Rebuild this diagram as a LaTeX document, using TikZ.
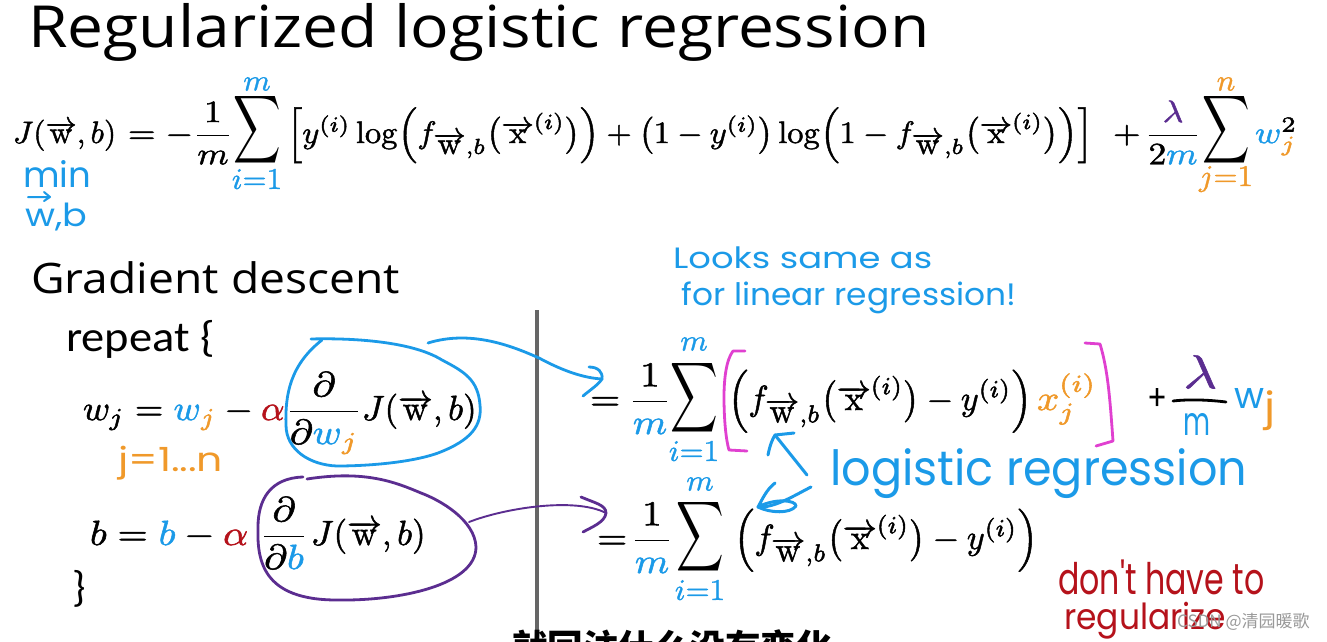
\documentclass[tikz,border=0pt]{standalone}
\usepackage[no-math]{fontspec}
\usepackage{graphicx}
\setmainfont{Carlito}
\newfontfamily\opens{Open Sans}
\newfontfamily\hand{Poppins}
\newfontfamily\cjk{Noto Sans CJK SC}
\definecolor{mblue}{HTML}{1B9AE8}
\definecolor{mora}{HTML}{F0992A}
\definecolor{mred}{HTML}{B5121B}
\definecolor{mpur}{HTML}{5B2D90}
\definecolor{mpink}{HTML}{E040D0}
\newcommand\vw{\overrightarrow{\mathrm{w}}}
\newcommand\vx{\overrightarrow{\mathrm{x}}}
\newcommand\B[1]{\textcolor{mblue}{#1}}
\newcommand\Or[1]{\textcolor{mora}{#1}}
\newcommand\heavy[2]{\special{pdf: code 2 Tr #1 w}#2\special{pdf: code 0 Tr 1 w}}
\newcommand\handfit[3]{\resizebox*{#1pt}{#2pt}{\hand #3}}
\setlength{\nulldelimiterspace}{0pt}
\tikzset{
  eq/.style={anchor=base west,inner sep=0pt,outer sep=0pt,xscale=3.55,yscale=3.1},
  eqb/.style={anchor=base west,inner sep=0pt,outer sep=0pt,xscale=3.9,yscale=3.5},
  eqc/.style={eqb,anchor=base},
  sumsign/.style={anchor=center,inner sep=0pt,outer sep=0pt,xscale=3.3,yscale=4.75},
  lim/.style={anchor=center,inner sep=0pt,xscale=3.1,yscale=3.0},
  title/.style={anchor=base west,inner sep=0pt,font=\fontsize{#1}{#1}\selectfont},
  hw/.style={anchor=north west,inner sep=0pt,text=mblue},
  stroke/.style={line cap=round,line join=round,line width=2.8pt},
  bar/.style={line width=1.4pt,black}
}
\begin{document}
\begin{tikzpicture}[x=1pt,y=-1pt]
\useasboundingbox (0,0) rectangle (1327,641);
\fill[white] (0,0) rectangle (1327,641);

\node[title=58,xscale=1.105] (ttl) at (28,47) {\opens Regularized logistic regression};
\node[title=42,xscale=1.1] (gd) at (31,293) {\opens Gradient descent};

% top equation
\node[eq,xscale=.88] (j1) at (13,143) {\heavy{.14}{$J(\vw,b)$}};
\node[eq] (j2) at (128,143) {\heavy{.14}{$=-$}};
\node[eq,anchor=base] (f1) at (213,143) {\heavy{.14}{$\displaystyle\frac{1}{m}$}};
\node[sumsign] (s1) at (257,130) {$\displaystyle\sum$};
\node[lim,text=mblue] (s1t) at (257,84) {\heavy{.12}{$m$}};
\node[lim,text=mblue] (s1b) at (257,179) {\heavy{.12}{$i{=}1$}};
\node[eq,xscale=.915] (main) at (287,143) {\heavy{.14}{$\Bigl[y^{(i)}\log\Bigl(f_{\vw,b}\bigl(\vx^{(i)}\bigr)\Bigr)+\bigl(1-y^{(i)}\bigr)\log\Bigl(1-f_{\vw,b}\bigl(\vx^{(i)}\bigr)\Bigr)\Bigr]$}};
\node[eq] (pl1) at (1113,143) {\heavy{.14}{$+$}};
\node[eq,anchor=base] (f2) at (1173,143) {\heavy{.14}{$\displaystyle\frac{\textcolor{mpur}{\lambda}}{2\B{m}}$}};
\node[sumsign] (s2) at (1226,130) {$\displaystyle\sum$};
\node[lim,text=mora] (s2t) at (1226,84) {\heavy{.12}{$n$}};
\node[lim,text=mora] (s2b) at (1226,179) {\heavy{.12}{$j{=}1$}};
\node[eq] (wj) at (1255,143) {\heavy{.14}{$\B{w}_{\Or{j}}^{2}$}};

% min
\node[hw] (min) at (23,160) {\handfit{68}{27}{min}};
\node[hw] (mwb) at (25,203) {\handfit{62}{28}{w,b}};
\coordinate (wa) at (28,197);
\coordinate (wb) at (50,197);
\draw[stroke,mblue,line width=2pt] (wa) -- (wb) (44,192) -- (wb) -- (44,201);

% repeat
\node[title=43,xscale=1.08] (rep) at (66,351) {repeat \{};
\node[title=43] (cl) at (72,601) {\}};

% w update
\node[eqb,xscale=.94] (w1) at (83,420) {\heavy{.14}{$w_j=\B{w}_{\Or{j}}-\textcolor{mred}{\alpha}$}};
\node[eqc] (fw) at (324,420) {\heavy{.14}{$\displaystyle\frac{\partial}{\partial \B{w}_{\Or{j}}}$}};
\node[eqb,xscale=.89] (jw) at (362,420) {\heavy{.14}{$J(\vw,b)$}};
\node[hw,text=mora] (jn) at (118,446) {\handfit{105}{34}{j=1...n}};

% b update
\node[eqb] (b1) at (90,545) {\heavy{.14}{$b=\B{b}-\textcolor{mred}{\alpha}$}};
\node[eqc] (fb) at (284,545) {\heavy{.14}{$\displaystyle\frac{\partial}{\partial \B{b}}$}};
\node[eqb,xscale=.89] (jb) at (311,545) {\heavy{.14}{$J(\vw,b)$}};

% separator
\draw[line width=3.2pt,black!60] (537,310) -- (537,641);

% right 1
\node[eqb] (e1) at (590,410) {\heavy{.14}{$=$}};
\node[eqc] (fr1) at (650,410) {\heavy{.14}{$\displaystyle\frac{1}{\B{m}}$}};
\node[sumsign,yscale=1.03] (s3) at (694,398) {$\displaystyle\sum$};
\node[lim,text=mblue] (s3t) at (694,344) {\heavy{.12}{$m$}};
\node[lim,text=mblue] (s3b) at (694,451) {\heavy{.12}{$i{=}1$}};
\node[eqb,xscale=.875] (r1) at (728,410) {\heavy{.14}{$\Bigl(f_{\vw,b}\bigl(\vx^{(i)}\bigr)-y^{(i)}\Bigr)$}};
\node[eqb] (xj) at (1037,410) {\heavy{.14}{$\Or{x}_{\Or{j}}^{\Or{(i)}}$}};
\node[hw,text=black] (plh) at (1147,388) {\handfit{20}{22}{+}};
\node[hw,text=mpur] (lam) at (1183,355) {\handfit{34}{33}{\heavy{.1}{$\lambda$}}};
\node[hw] (mh) at (1183,413) {\handfit{27}{22}{m}};
\node[hw] (wh) at (1234,388) {\handfit{30}{20}{w}};
\node[hw,text=mora] (jh) at (1264,390) {\handfit{11}{40}{j}};

% right 2
\node[eqb] (e2) at (597,549) {\heavy{.14}{$=$}};
\node[eqc] (fr2) at (652,549) {\heavy{.14}{$\displaystyle\frac{1}{\B{m}}$}};
\node[sumsign,yscale=1.03] (s4) at (700,537) {$\displaystyle\sum$};
\node[lim,text=mblue] (s4t) at (700,484) {\heavy{.12}{$m$}};
\node[lim,text=mblue] (s4b) at (700,590) {\heavy{.12}{$i{=}1$}};
\node[eqb,xscale=.875] (r2) at (734,549) {\heavy{.14}{$\Bigl(f_{\vw,b}\bigl(\vx^{(i)}\bigr)-y^{(i)}\Bigr)$}};

% handwriting
\node[hw] (look) at (673,247) {\handfit{259}{22}{Looks same as}};
\node[hw] (lin) at (681,282) {\handfit{335}{32}{for linear regression!}};
\node[hw] (logi) at (830,448) {\handfit{417}{50}{logistic regression}};
\node[hw,text=mred] (dont) at (1058,560) {\handfit{206}{35}{don't have to}};
\node[hw,text=mred] (regu) at (1064,602) {\handfit{162}{37}{regularize}};

% circles
\draw[stroke,mblue] (311,339) .. controls (345,338) and (410,340) .. (442,360)
  .. controls (465,372) and (478,380) .. (480,405)
  .. controls (482,425) and (472,440) .. (438,453)
  .. controls (410,463) and (365,466) .. (337,466)
  .. controls (310,465) and (286,450) .. (286,425)
  .. controls (285,395) and (290,365) .. (322,340);
\coordinate (ca) at (428,343);
\coordinate (cb) at (602,379);
\draw[stroke,mblue] (ca) .. controls (470,330) and (510,345) .. (539,358)
  .. controls (565,372) and (585,378) .. (cb);
\draw[stroke,mblue] (589,367) .. controls (598,367) and (603,372) .. (cb) .. controls (598,385) and (590,390) .. (583,396);

\draw[stroke,mpur] (303,477) .. controls (270,478) and (258,500) .. (258,527)
  .. controls (257,560) and (262,600) .. (337,600)
  .. controls (400,601) and (476,585) .. (476,547)
  .. controls (475,520) and (440,500) .. (421,493)
  .. controls (395,482) and (365,470) .. (307,479);
\coordinate (pa) at (469,522);
\coordinate (pb) at (606,513);
\draw[stroke,mpur,line width=1.9pt] (pa) .. controls (505,508) and (575,497) .. (pb);
\draw[stroke,mpur] (581,497) .. controls (595,503) and (606,505) .. (606,513) .. controls (605,522) and (592,527) .. (583,532);

% pink brackets
\draw[stroke,mpink] (745,351) -- (733,351) .. controls (726,360) and (724,380) .. (724,397) .. controls (724,420) and (726,440) .. (729,450) -- (747,451);
\draw[stroke,mpink] (1085,343) -- (1100,344) .. controls (1108,370) and (1110,400) .. (1113,441) -- (1096,446);

% frac bar of hand lambda
\draw[stroke,black] (1173,401) .. controls (1190,399) and (1210,400) .. (1226,402);

% logistic arrows
\coordinate (u1) at (807,475);
\coordinate (u2) at (775,435);
\draw[stroke,mblue,line width=3pt] (u1) -- (u2);
\draw[stroke,mblue,line width=3pt] (768,455) .. controls (770,445) and (772,440) .. (u2) -- (794,433);
\coordinate (d1) at (811,487);
\coordinate (d2) at (758,507);
\draw[stroke,mblue,line width=3pt] (d1) .. controls (795,495) and (775,508) .. (d2);
\draw[stroke,mblue,line width=3pt] (775,483) .. controls (766,490) and (762,500) .. (d2)
  .. controls (770,513) and (790,514) .. (796,506) .. controls (796,500) and (775,498) .. (d2);

% subtitle and watermark
\node[anchor=north west,inner sep=0pt,font=\cjk\fontsize{35.5}{35.5}\selectfont\bfseries,text=black] (sub) at (512,629) {就回注什么没有变化};
\node[anchor=west,inner sep=0pt,font=\cjk\fontsize{17}{17}\selectfont,text=black!40] (wm) at (1177,622) {CSDN @清园暖歌};
\end{tikzpicture}
\end{document}
